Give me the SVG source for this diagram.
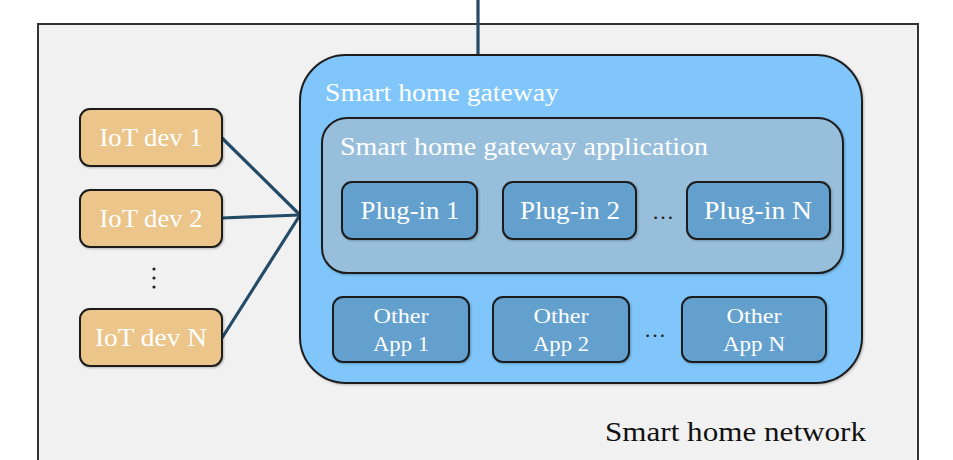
<svg xmlns="http://www.w3.org/2000/svg" width="953" height="460" viewBox="0 0 953 460">
  <defs>
    <filter id="soft" x="-10%" y="-10%" width="120%" height="120%">
      <feGaussianBlur in="SourceAlpha" stdDeviation="1.2"/>
      <feOffset dx="0.5" dy="1" result="b"/>
      <feFlood flood-color="#000" flood-opacity="0.25"/>
      <feComposite in2="b" operator="in"/>
      <feMerge><feMergeNode/><feMergeNode in="SourceGraphic"/></feMerge>
    </filter>
  </defs>
  <style>
    text { font-family: "Liberation Serif", "DejaVu Serif", serif; fill: #ffffff; }
    .box { stroke: #1e1e1e; stroke-width: 2; filter: url(#soft); }
    .iot { fill: #ebc58a; }
    .plug { fill: #64a0cd; }
    .lbl { font-size: 25px; text-anchor: middle; }
    .sm { font-size: 22px; text-anchor: middle; }
    .wire { stroke: #234a66; stroke-width: 3.2; fill: none; }
    .dot { fill: #222; }
  </style>

  <rect width="953" height="460" fill="#ffffff"/>

  <!-- network boundary -->
  <g id="network">
    <rect x="38" y="24" width="880" height="460" fill="#f1f1f1" stroke="#333" stroke-width="2"/>
    <text x="866" y="441" font-size="27" text-anchor="end" style="fill:#111" textLength="261" lengthAdjust="spacingAndGlyphs">Smart home network</text>
  </g>

  <!-- connectors -->
  <g id="connectors">
    <line class="wire" x1="478" y1="0" x2="478" y2="56"/>
    <line class="wire" x1="222" y1="138" x2="300" y2="215"/>
    <line class="wire" x1="222" y1="218" x2="300" y2="215"/>
    <line class="wire" x1="222" y1="338" x2="300" y2="215"/>
  </g>

  <!-- gateway -->
  <g id="gateway">
    <rect class="box" x="300" y="55" width="562" height="328" rx="46" fill="#80c6fa"/>
    <text x="325" y="101" font-size="25" textLength="234" lengthAdjust="spacingAndGlyphs">Smart home gateway</text>
  </g>

  <g id="gateway-app">
    <rect class="box" x="322" y="118" width="521" height="155" rx="25" fill="#97bedb"/>
    <text x="340" y="155" font-size="25" textLength="368" lengthAdjust="spacingAndGlyphs">Smart home gateway application</text>
  </g>

  <g id="plugin-1">
    <rect class="box plug" x="342" y="182" width="135" height="57" rx="10"/>
    <text class="lbl" x="410" y="219" textLength="99" lengthAdjust="spacingAndGlyphs">Plug-in 1</text>
  </g>
  <g id="plugin-2">
    <rect class="box plug" x="503" y="182" width="133" height="57" rx="10"/>
    <text class="lbl" x="570" y="219" textLength="100" lengthAdjust="spacingAndGlyphs">Plug-in 2</text>
  </g>
  <text x="663" y="219" font-size="22" text-anchor="middle" style="fill:#222">…</text>
  <g id="plugin-n">
    <rect class="box plug" x="687" y="182" width="143" height="57" rx="10"/>
    <text class="lbl" x="758" y="219" textLength="108" lengthAdjust="spacingAndGlyphs">Plug-in N</text>
  </g>

  <g id="other-app-1">
    <rect class="box plug" x="333" y="297" width="136" height="65" rx="10"/>
    <text class="sm" x="401" y="323" textLength="55" lengthAdjust="spacingAndGlyphs">Other</text>
    <text class="sm" x="401" y="351" textLength="56" lengthAdjust="spacingAndGlyphs">App 1</text>
  </g>
  <g id="other-app-2">
    <rect class="box plug" x="493" y="297" width="136" height="65" rx="10"/>
    <text class="sm" x="561" y="323" textLength="55" lengthAdjust="spacingAndGlyphs">Other</text>
    <text class="sm" x="561" y="351" textLength="56" lengthAdjust="spacingAndGlyphs">App 2</text>
  </g>
  <text x="655" y="337" font-size="22" text-anchor="middle" style="fill:#222">…</text>
  <g id="other-app-n">
    <rect class="box plug" x="682" y="297" width="144" height="65" rx="10"/>
    <text class="sm" x="754" y="323" textLength="55" lengthAdjust="spacingAndGlyphs">Other</text>
    <text class="sm" x="754" y="351" textLength="62" lengthAdjust="spacingAndGlyphs">App N</text>
  </g>

  <!-- devices -->
  <g id="iot-dev-1">
    <rect class="box iot" x="80" y="109" width="142" height="57" rx="10"/>
    <text class="lbl" x="151" y="146" textLength="103" lengthAdjust="spacingAndGlyphs">IoT dev 1</text>
  </g>
  <g id="iot-dev-2">
    <rect class="box iot" x="80" y="190" width="142" height="57" rx="10"/>
    <text class="lbl" x="151" y="227" textLength="103" lengthAdjust="spacingAndGlyphs">IoT dev 2</text>
  </g>
  <g id="iot-dots">
    <circle class="dot" cx="154" cy="269" r="1.6"/>
    <circle class="dot" cx="154" cy="278" r="1.6"/>
    <circle class="dot" cx="154" cy="287" r="1.6"/>
  </g>
  <g id="iot-dev-n">
    <rect class="box iot" x="80" y="309" width="142" height="57" rx="10"/>
    <text class="lbl" x="151" y="346" textLength="112" lengthAdjust="spacingAndGlyphs">IoT dev N</text>
  </g>
</svg>
